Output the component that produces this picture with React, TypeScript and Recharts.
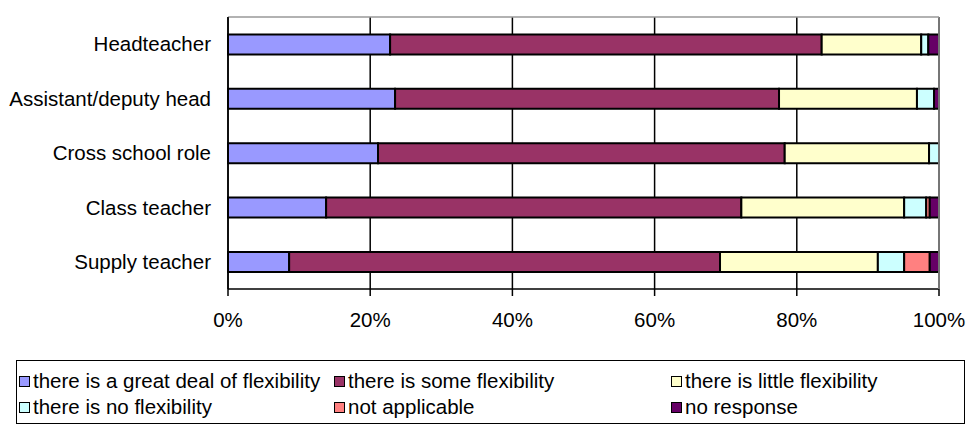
import { Bar, BarChart, CartesianGrid, Legend, XAxis, YAxis } from "recharts"

const categories = ["Headteacher", "Assistant/deputy head", "Cross school role", "Class teacher", "Supply teacher"]
const greatDeal = [22.8, 23.5, 21.1, 13.8, 8.6]
const some = [60.7, 54.0, 57.2, 58.4, 60.6]
const little = [14.0, 19.4, 20.3, 22.9, 22.2]
const noFlex = [1.0, 2.4, 1.4, 3.1, 3.7]
const notApplicable = [0, 0, 0, 0.5, 3.6]
const noResponse = [1.5, 0.7, 0, 1.3, 1.3]
const xTicks = [0, 20, 40, 60, 80, 100]

const series = [
  { key: "great", name: "there is a great deal of flexibility", values: greatDeal, color: "#9999FF" },
  { key: "some", name: "there is some flexibility", values: some, color: "#993366" },
  { key: "little", name: "there is little flexibility", values: little, color: "#FFFFCC" },
  { key: "none", name: "there is no flexibility", values: noFlex, color: "#CCFFFF" },
  { key: "na", name: "not applicable", values: notApplicable, color: "#FF8080" },
  { key: "nr", name: "no response", values: noResponse, color: "#660066" },
]

const data = categories.map((name, i) => {
  const row: Record<string, string | number> = { name }
  series.forEach((s) => (row[s.key] = s.values[i]))
  return row
})

const font = "'Liberation Sans', Arial, sans-serif"
const colX = [2, 317, 654]
const rowY = [20, 46]

// label plus Excel-style tick marks on the band edges instead of the centre
function CategoryTick(props: any) {
  const { x, y, payload, tickSize, tickMargin, index, visibleTicksCount } = props
  const ax = x + tickSize + tickMargin
  const half = payload.offset || 0
  return (
    <g>
      <text x={x} y={y} dy="0.355em" textAnchor="end" fill="#000" fontSize={20.5} fontFamily={font}>
        {payload.value}
      </text>
      <line x1={ax - 5} x2={ax} y1={y - half} y2={y - half} stroke="#000" strokeWidth={1.5} />
      {index === visibleTicksCount - 1 && (
        <line x1={ax - 5} x2={ax} y1={y + half} y2={y + half} stroke="#000" strokeWidth={1.5} />
      )}
    </g>
  )
}

// legend drawn in the source order (recharts sorts its own payload)
function renderLegend() {
  return (
    <div
      style={{
        position: "relative",
        width: 949,
        height: 64,
        border: "1.5px solid #000",
        boxSizing: "border-box",
        fontFamily: font,
        fontSize: 20.5,
        color: "#000",
      }}
    >
      {series.map((s, i) => (
        <div
          key={s.key}
          style={{
            position: "absolute",
            left: colX[i % 3],
            top: rowY[Math.floor(i / 3)] - 12,
            height: 24,
            display: "flex",
            alignItems: "center",
            whiteSpace: "nowrap",
          }}
        >
          <span
            style={{
              display: "inline-block",
              width: 9,
              height: 9,
              border: "1.5px solid #000",
              background: s.color,
              marginRight: 3,
            }}
          />
          <span>{s.name}</span>
        </div>
      ))}
    </div>
  )
}

export default function App() {
  return (
    <div style={{ position: "absolute", left: 0, top: 0, background: "#fff" }}>
      <BarChart
        width={968}
        height={425}
        data={data}
        layout="vertical"
        barCategoryGap="32%"
        margin={{ top: 16, right: 28, left: 0, bottom: 86 }}
      >
        <CartesianGrid horizontal={false} stroke="#000" strokeWidth={1.5} />
        <XAxis
          type="number"
          domain={[0, 100]}
          ticks={xTicks}
          tickFormatter={(v) => `${v}%`}
          stroke="#000"
          strokeWidth={1.5}
          tickSize={7}
          tickMargin={16}
          height={50}
          tick={{ fill: "#000", fontSize: 20.5, fontFamily: font }}
        />
        {/* grey plot border, top and right */}
        <XAxis
          xAxisId="top"
          orientation="top"
          type="number"
          domain={[0, 100]}
          height={1}
          tick={false}
          tickLine={false}
          stroke="#999"
          strokeWidth={1.5}
        />
        <YAxis
          type="category"
          dataKey="name"
          width={228}
          stroke="#000"
          strokeWidth={1.5}
          tickLine={false}
          tickSize={6}
          tickMargin={11}
          tick={<CategoryTick />}
        />
        <YAxis
          yAxisId="right"
          orientation="right"
          type="number"
          scale="linear"
          domain={[0, 5]}
          width={1}
          tick={false}
          tickLine={false}
          stroke="#999"
          strokeWidth={1.5}
        />
        {series.map((s) => (
          <Bar
            key={s.key}
            dataKey={s.key}
            name={s.name}
            stackId="a"
            fill={s.color}
            stroke="#000"
            strokeWidth={2}
            isAnimationActive={false}
          />
        ))}
        <Legend
          layout="horizontal"
          verticalAlign="middle"
          align="center"
          content={renderLegend}
          wrapperStyle={{ left: 16, top: 360, width: 949, height: 64 }}
        />
      </BarChart>
    </div>
  )
}
